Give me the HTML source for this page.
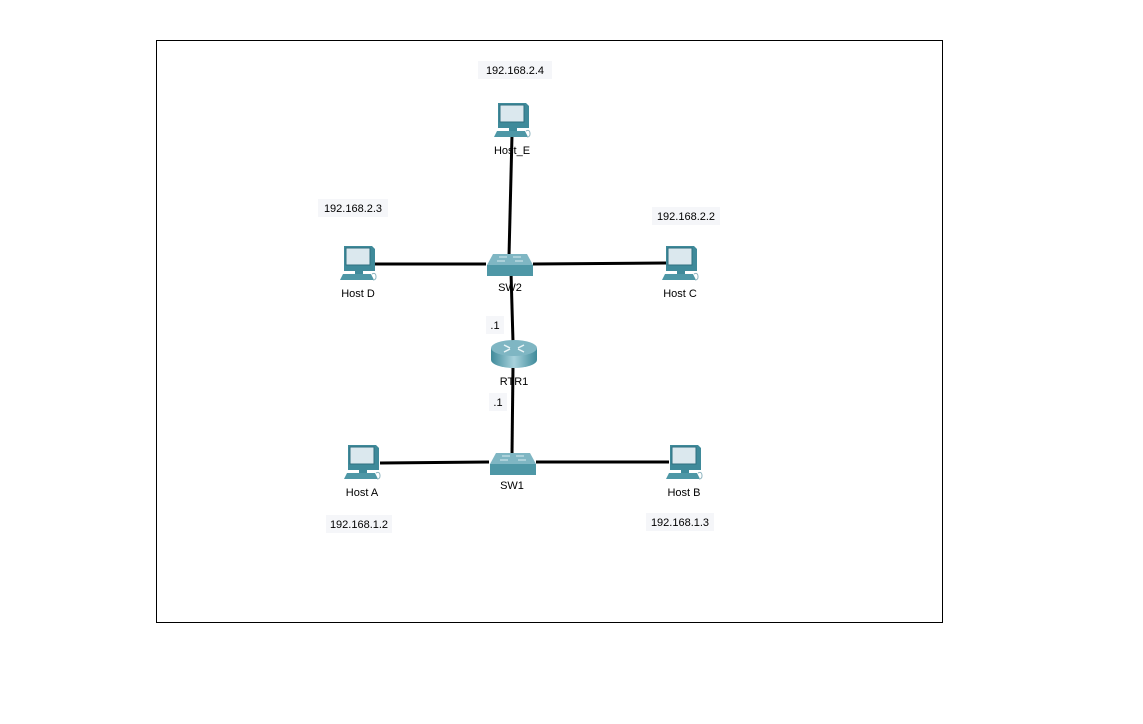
<!DOCTYPE html>
<html><head><style>
body{margin:0;background:#fff;}
svg text{font-family:"Liberation Sans",Arial,sans-serif;font-size:11px;fill:#000;}
</style></head><body>
<svg width="1143" height="719" xmlns="http://www.w3.org/2000/svg">
<defs>
<g id="pc">
<path d="M-14,0 h28 l3,3 v22 h-31 z" fill="#3f8a9a"/>
<rect x="-12" y="2" width="24" height="17" fill="#dbe8ee" stroke="#2f7080" stroke-width="1"/>
<rect x="-3" y="25" width="8" height="3" fill="#3f8a9a"/>
<path d="M-15,28 h28 l3,6 h-34 z" fill="#4e97a6"/>
<path d="M14,28 q4,-2 4,3 q0,3 -3,3" fill="none" stroke="#8fb5c0" stroke-width="1"/>
</g>
<g id="sw">
<path d="M-16,-10 h34 l6,11 h-46 z" fill="#7fb6c3"/>
<rect x="-22" y="1" width="46" height="11" fill="#4e97a6"/>
<path d="M-10,-7 h8 M4,-7 h8 M-12,-3 h8 M6,-3 h8" stroke="#d8ecf0" stroke-width="1"/>
</g>
<linearGradient id="rg" x1="0" x2="1"><stop offset="0" stop-color="#3f8a9a"/><stop offset="0.5" stop-color="#a8d2dc"/><stop offset="1" stop-color="#3f8a9a"/></linearGradient>
</defs>
<rect x="156.5" y="40.5" width="786" height="582" fill="#fff" stroke="#000" stroke-width="1"/>
<g stroke="#000" stroke-width="3">
<line x1="512" y1="135" x2="509" y2="256"/>
<line x1="375" y1="264" x2="486" y2="264"/>
<line x1="533" y1="264" x2="666" y2="263"/>
<line x1="511" y1="272" x2="513" y2="342"/>
<line x1="513" y1="366" x2="512" y2="455"/>
<line x1="380" y1="463" x2="489" y2="462"/>
<line x1="536" y1="462" x2="669" y2="462"/>
</g>
<use href="#pc" x="512" y="103"/>
<use href="#pc" x="358" y="246"/>
<use href="#pc" x="680" y="246"/>
<use href="#pc" x="362" y="445"/>
<use href="#pc" x="684" y="445"/>
<use href="#sw" x="509" y="264"/>
<use href="#sw" x="512" y="463"/>
<g>
<path d="M491,348 v12 a23,8 0 0 0 46,0 v-12 z" fill="url(#rg)"/>
<ellipse cx="514" cy="348" rx="23" ry="8" fill="#7fb6c3"/>
<path d="M504,345 l6,3 M524,345 l-6,3 M504,352 l6,-3 M524,352 l-6,-3" stroke="#e8f4f6" stroke-width="1.5"/>
</g>
<g text-anchor="middle">
<text x="512" y="154">Host_E</text>
<text x="358" y="297">Host D</text>
<text x="680" y="297">Host C</text>
<text x="362" y="496">Host A</text>
<text x="684" y="496">Host B</text>
<text x="510" y="291">SW2</text>
<text x="512" y="489">SW1</text>
<text x="514" y="385">RTR1</text>
</g>
<g fill="#f5f6f9">
<rect x="478" y="61" width="74" height="18"/>
<rect x="318" y="199" width="70" height="18"/>
<rect x="652" y="207" width="68" height="18"/>
<rect x="326" y="515" width="66" height="18"/>
<rect x="646" y="513" width="68" height="18"/>
<rect x="486" y="316" width="18" height="18"/>
<rect x="489" y="393" width="18" height="18"/>
</g>
<g text-anchor="middle">
<text x="515" y="74">192.168.2.4</text>
<text x="353" y="212">192.168.2.3</text>
<text x="686" y="220">192.168.2.2</text>
<text x="359" y="528">192.168.1.2</text>
<text x="680" y="526">192.168.1.3</text>
<text x="495" y="329">.1</text>
<text x="498" y="406">.1</text>
</g>
</svg>
</body></html>
